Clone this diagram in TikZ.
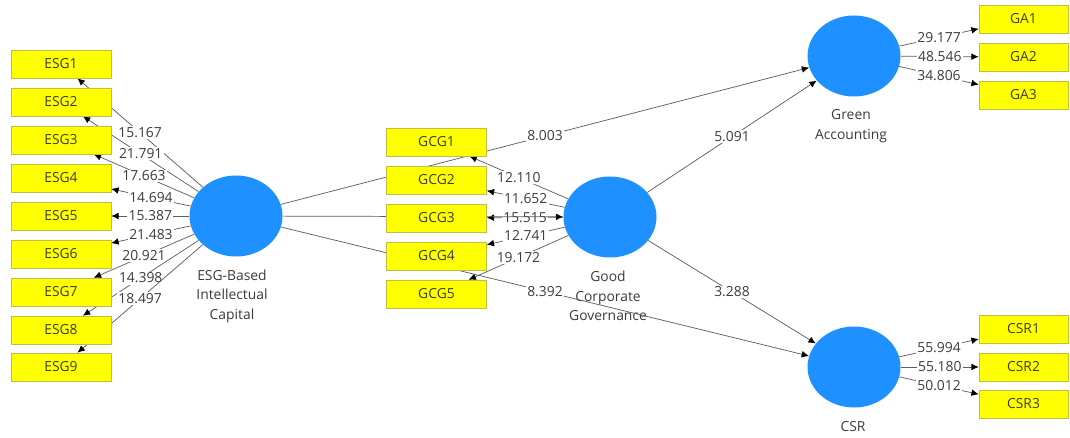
\documentclass[tikz,border=0pt]{standalone}
\usepackage{fontspec}
\setmainfont{Open Sans}
\usetikzlibrary{arrows.meta,shapes.geometric}
\pgfdeclarelayer{bg}
\pgfsetlayers{bg,main}
\definecolor{lvblue}{RGB}{30,144,255}
\definecolor{indfill}{RGB}{255,255,0}
\definecolor{indborder}{RGB}{190,190,70}
\definecolor{txt}{RGB}{60,60,60}
\definecolor{edgecol}{RGB}{95,95,95}
\begin{document}
\begin{tikzpicture}[x=0.75pt,y=-0.75pt,
  lv/.style={ellipse, fill=lvblue, draw=none, inner sep=0pt,
    minimum width=69.75pt, minimum height=60.75pt},
  ind/.style={rectangle, fill=indfill, draw=indborder, line width=0.4pt,
    minimum width=75pt, minimum height=21pt, inner sep=0pt, text=txt,
    font=\fontsize{10.4}{12}\selectfont},
  indr/.style={ind, minimum width=66.75pt},
  lvname/.style={align=center, text=txt, font=\fontsize{10.4}{14.6}\selectfont, inner sep=1pt},
  lbl/.style={fill=white, inner sep=1pt, text=txt, font=\fontsize{10.4}{12}\selectfont},
  conn/.style={draw=edgecol, line width=0.55pt, -{Latex[length=5.5pt,width=5pt,color=black]}}
]
\useasboundingbox (0,0) rectangle (1070,438);

% latent variables
\node[lv] (esg) at (236,216) {};
\node[lv] (gcg) at (610,217) {};
\node[lv] (ga)  at (854,56) {};
\node[lv] (csr) at (854,367) {};

% indicators
\foreach \i/\y in {1/64,2/102,3/140,4/178,5/216,6/254,7/292,8/330,9/367}
  \node[ind] (esg\i) at (61,\y) {ESG\i};
\foreach \i/\y in {1/142,2/180,3/218,4/256,5/294}
  \node[ind] (gcg\i) at (436.5,\y) {GCG\i};
\foreach \i/\y in {1/19,2/57,3/95}
  \node[indr] (ga\i) at (1023.5,\y) {GA\i};
\foreach \i/\y in {1/329,2/367,3/404}
  \node[indr] (csr\i) at (1023.5,\y) {CSR\i};

\begin{pgfonlayer}{bg}
  \fill[white] (0,0) rectangle (1070,438);
  % latent names
  \node[lvname] (esgname) at (232,296) {ESG-Based\\Intellectual\\Capital};
  \node[lvname] (gcgname) at (608,296) {Good\\Corporate\\Governance};
  \node[lvname] (ganame) at (851,126) {Green\\Accounting};
  \node[lvname] (csrname) at (853,427) {CSR};

  % ESG loadings
  \foreach \i/\v in {1/15.167,2/21.791,3/17.663,4/14.694,5/15.387,6/21.483,7/20.921,8/14.398,9/18.497}
    \draw[conn] (esg) -- (esg\i) node[lbl, pos=0.5] {\v};
  % GCG loadings
  \foreach \i/\v in {1/12.110,2/11.652,3/15.515,4/12.741,5/19.172}
    \draw[conn] (gcg) -- (gcg\i) node[lbl, pos=0.5] {\v};
  % GA loadings
  \foreach \i/\v in {1/29.177,2/48.546,3/34.806}
    \draw[conn] (ga) -- (ga\i) node[lbl, pos=0.5] {\v};
  % CSR loadings
  \foreach \i/\v in {1/55.994,2/55.180,3/50.012}
    \draw[conn] (csr) -- (csr\i) node[lbl, pos=0.5] {\v};

  % structural paths
  \draw[conn] (esg) -- (gcg);
  \draw[conn] (esg) -- (ga) node[lbl, pos=0.5] {8.003};
  \draw[conn] (esg) -- (csr) node[lbl, pos=0.5] {8.392};
  \draw[conn] (gcg) -- (ga) node[lbl, pos=0.5] {5.091};
  \draw[conn] (gcg) -- (csr) node[lbl, pos=0.5] {3.288};
\end{pgfonlayer}
\end{tikzpicture}
\end{document}
